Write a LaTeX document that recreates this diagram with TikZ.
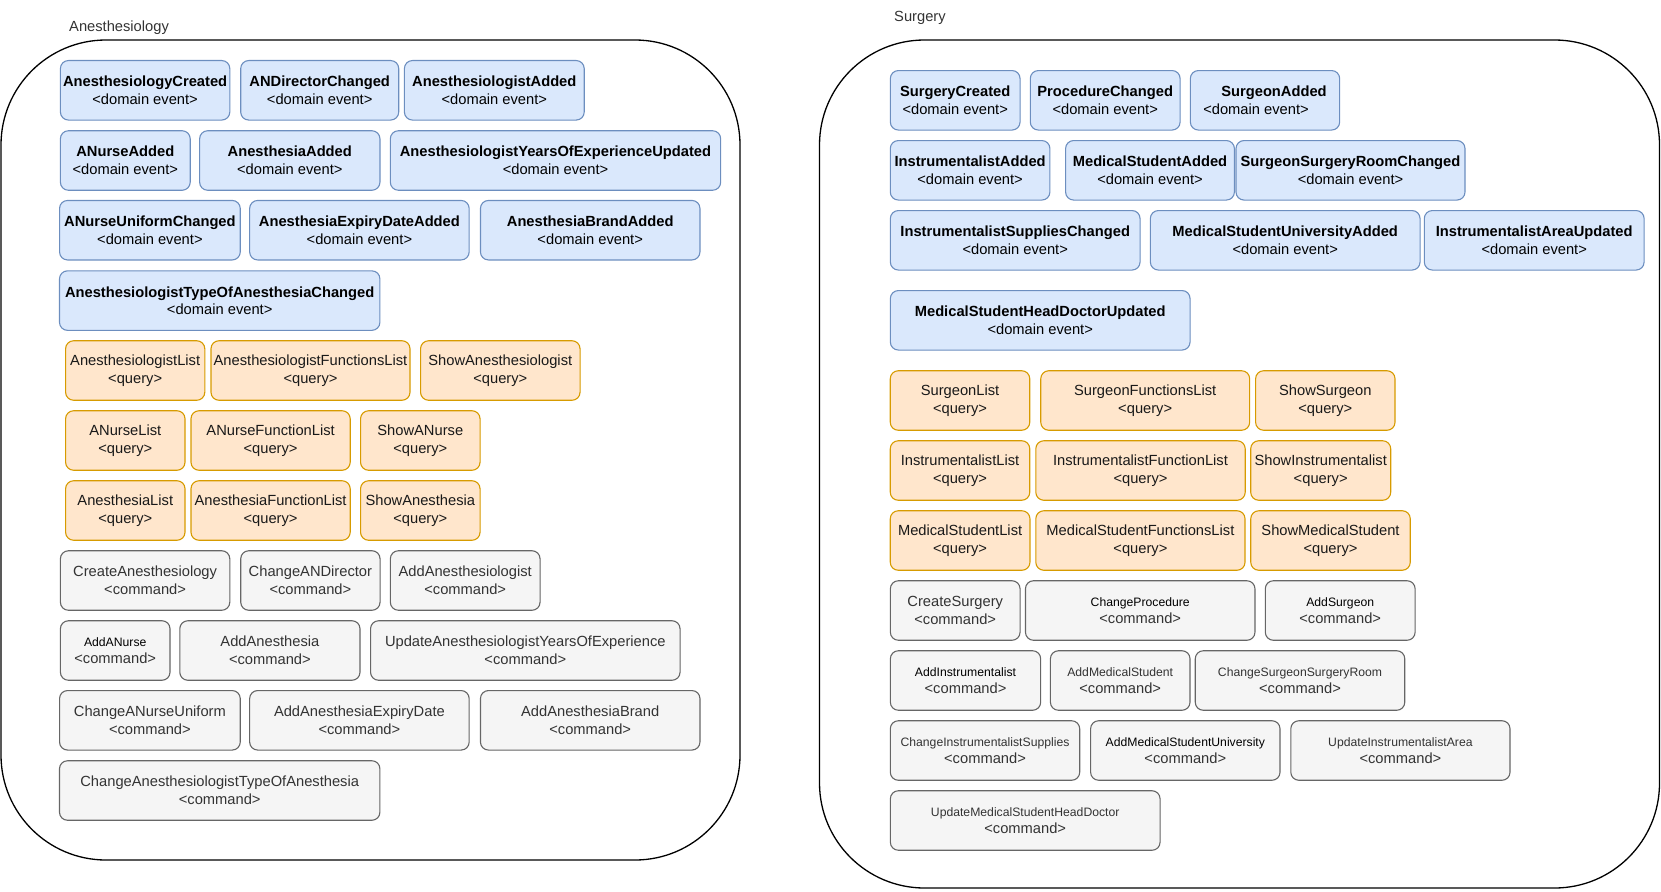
\documentclass[tikz,border=0pt]{standalone}
\usepackage{fontspec}
\setmainfont{Liberation Sans}
\definecolor{evfill}{HTML}{DAE8FC}
\definecolor{evdraw}{HTML}{6C8EBF}
\definecolor{qfill}{HTML}{FFE6CC}
\definecolor{qdraw}{HTML}{D79B00}
\definecolor{cmfill}{HTML}{F5F5F5}
\definecolor{cmdraw}{HTML}{666666}
\definecolor{cmtext}{HTML}{333333}
\newcommand{\smallname}[1]{{\fontsize{12.2}{14}\selectfont #1}}
\begin{document}
\begin{tikzpicture}[x=1pt,y=-1pt,
  box/.style={rectangle,rounded corners=8pt,line width=1.1pt,inner sep=0pt,
    minimum height=59.5pt,align=center,font=\fontsize{14.7}{17.7}\selectfont},
  evbox/.style={box,fill=evfill,draw=evdraw},
  qbox/.style={box,fill=qfill,draw=qdraw,text=black!90},
  cmdbox/.style={box,fill=cmfill,draw=cmdraw,text=cmtext},
  ctxbox/.style={rectangle,draw=black,line width=1.3pt,rounded corners=105pt,inner sep=0pt},
  ctxlabel/.style={anchor=west,inner sep=0pt,text=cmtext,font=\fontsize{14.7}{17.7}\selectfont}]
\useasboundingbox (0,0) rectangle (1661,891);

%%% Anesthesiology
\node[ctxbox,minimum width=739pt,minimum height=820pt] (anesthesiology) at (370.5,450) {};
\node[ctxlabel] (anTitle) at (69,28) {Anesthesiology};

% domain events
\node[evbox,minimum width=169.4pt] (anCreated) at (145.1,90.3) {\textbf{AnesthesiologyCreated}\\<domain event>};
\node[evbox,minimum width=158pt] (anDirChanged) at (319.7,90.3) {\textbf{ANDirectorChanged}\\<domain event>};
\node[evbox,minimum width=179.8pt] (anLogistAdded) at (494.3,90.3) {\textbf{AnesthesiologistAdded}\\<domain event>};
\node[evbox,minimum width=129.8pt] (anNurseAdded) at (125.3,160.5) {\textbf{ANurseAdded}\\<domain event>};
\node[evbox,minimum width=180.3pt] (anAnesAdded) at (289.8,160.5) {\textbf{AnesthesiaAdded}\\<domain event>};
\node[evbox,minimum width=330.3pt] (anYearsUpd) at (555.5,160.5) {\textbf{AnesthesiologistYearsOfExperienceUpdated}\\<domain event>};
\node[evbox,minimum width=180.7pt] (anUniformChg) at (149.9,230.2) {\textbf{ANurseUniformChanged}\\<domain event>};
\node[evbox,minimum width=219.5pt] (anExpiryAdded) at (359.4,230.2) {\textbf{AnesthesiaExpiryDateAdded}\\<domain event>};
\node[evbox,minimum width=219.5pt] (anBrandAdded) at (590.2,230.2) {\textbf{AnesthesiaBrandAdded}\\<domain event>};
\node[evbox,minimum width=320.4pt] (anTypeChg) at (219.7,300.6) {\textbf{AnesthesiologistTypeOfAnesthesiaChanged}\\<domain event>};

% queries
\node[qbox,minimum width=139.2pt] (anLogistList) at (135.2,370.5) {AnesthesiologistList\\<query>};
\node[qbox,minimum width=199pt] (anLogistFunc) at (310.5,370.5) {AnesthesiologistFunctionsList\\<query>};
\node[qbox,minimum width=159.5pt] (anLogistShow) at (500.3,370.5) {ShowAnesthesiologist\\<query>};
\node[qbox,minimum width=119.4pt] (anNurseList) at (125.3,440.5) {ANurseList\\<query>};
\node[qbox,minimum width=159.2pt] (anNurseFunc) at (270.6,440.5) {ANurseFunctionList\\<query>};
\node[qbox,minimum width=119.5pt] (anNurseShow) at (420.3,440.5) {ShowANurse\\<query>};
\node[qbox,minimum width=119.4pt] (anAnesList) at (125.3,510.5) {AnesthesiaList\\<query>};
\node[qbox,minimum width=159.2pt] (anAnesFunc) at (270.6,510.5) {AnesthesiaFunctionList\\<query>};
\node[qbox,minimum width=119.5pt] (anAnesShow) at (420.3,510.5) {ShowAnesthesia\\<query>};

% commands
\node[cmdbox,minimum width=169.4pt] (anCreate) at (145.1,580.5) {CreateAnesthesiology\\<command>};
\node[cmdbox,minimum width=139.3pt] (anDirChange) at (310.4,580.5) {ChangeANDirector\\<command>};
\node[cmdbox,minimum width=149.7pt] (anLogistAdd) at (465.2,580.5) {AddAnesthesiologist\\<command>};
\node[cmdbox,minimum width=109.6pt] (anNurseAdd) at (115.2,650.5) {\smallname{\color{black}AddANurse}\\<command>};
\node[cmdbox,minimum width=180.2pt] (anAnesAdd) at (269.9,650.5) {AddAnesthesia\\<command>};
\node[cmdbox,minimum width=309.5pt] (anYearsUpdate) at (525.3,650.5) {UpdateAnesthesiologistYearsOfExperience\\<command>};
\node[cmdbox,minimum width=180.7pt] (anUniformChange) at (149.9,720.3) {ChangeANurseUniform\\<command>};
\node[cmdbox,minimum width=219.5pt] (anExpiryAdd) at (359.4,720.3) {AddAnesthesiaExpiryDate\\<command>};
\node[cmdbox,minimum width=219.5pt] (anBrandAdd) at (590.2,720.3) {AddAnesthesiaBrand\\<command>};
\node[cmdbox,minimum width=320.4pt] (anTypeChange) at (219.7,790.5) {ChangeAnesthesiologistTypeOfAnesthesia\\<command>};

%%% Surgery
\node[ctxbox,minimum width=840pt,minimum height=848pt] (surgery) at (1239.5,464) {};
\node[ctxlabel] (suTitle) at (894,18) {Surgery};

% domain events
\node[evbox,minimum width=129.7pt] (suCreated) at (955.2,100.3) {\textbf{SurgeryCreated}\\<domain event>};
\node[evbox,minimum width=149.8pt] (suProcChanged) at (1105.2,100.3) {\textbf{ProcedureChanged}\\<domain event>};
\node[evbox,minimum width=149.3pt] (suSurgeonAdded) at (1265,100.3) {\hspace*{18pt}\textbf{SurgeonAdded}\\<domain event>\hspace*{18pt}};
\node[evbox,minimum width=159.6pt] (suInstrAdded) at (970.1,170.3) {\textbf{InstrumentalistAdded}\\<domain event>};
\node[evbox,minimum width=168.8pt] (suStudentAdded) at (1150,170.3) {\textbf{MedicalStudentAdded}\\<domain event>};
\node[evbox,minimum width=229pt] (suRoomChanged) at (1350.5,170.3) {\textbf{SurgeonSurgeryRoomChanged}\\<domain event>};
\node[evbox,minimum width=249.7pt] (suSuppliesChg) at (1015.2,240.3) {\textbf{InstrumentalistSuppliesChanged}\\<domain event>};
\node[evbox,minimum width=269.7pt] (suUnivAdded) at (1285.2,240.3) {\textbf{MedicalStudentUniversityAdded}\\<domain event>};
\node[evbox,minimum width=219.8pt] (suAreaUpd) at (1534.2,240.3) {\textbf{InstrumentalistAreaUpdated}\\<domain event>};
\node[evbox,minimum width=299.7pt] (suHeadDocUpd) at (1040.2,320.3) {\textbf{MedicalStudentHeadDoctorUpdated}\\<domain event>};

% queries
\node[qbox,minimum width=139.5pt] (suSurgeonList) at (960,400.5) {SurgeonList\\<query>};
\node[qbox,minimum width=208.9pt] (suSurgeonFunc) at (1145.2,400.5) {SurgeonFunctionsList\\<query>};
\node[qbox,minimum width=139.4pt] (suSurgeonShow) at (1325.3,400.5) {ShowSurgeon\\<query>};
\node[qbox,minimum width=139.5pt] (suInstrList) at (960,470.5) {InstrumentalistList\\<query>};
\node[qbox,minimum width=209.4pt] (suInstrFunc) at (1140.5,470.5) {InstrumentalistFunctionList\\<query>};
\node[qbox,minimum width=140pt] (suInstrShow) at (1320.7,470.5) {ShowInstrumentalist\\<query>};
\node[qbox,minimum width=139.7pt] (suStudentList) at (960.1,540.5) {MedicalStudentList\\<query>};
\node[qbox,minimum width=209.2pt] (suStudentFunc) at (1140.4,540.5) {MedicalStudentFunctionsList\\<query>};
\node[qbox,minimum width=159.5pt] (suStudentShow) at (1330.5,540.5) {ShowMedicalStudent\\<query>};

% commands
\node[cmdbox,minimum width=129.7pt] (suCreate) at (955.2,610.5) {CreateSurgery\\<command>};
\node[cmdbox,minimum width=229.5pt] (suProcChange) at (1140.2,610.5) {\smallname{\color{black}ChangeProcedure}\\<command>};
\node[cmdbox,minimum width=149.8pt] (suSurgeonAdd) at (1340.2,610.5) {\smallname{\color{black}AddSurgeon}\\<command>};
\node[cmdbox,minimum width=150.3pt] (suInstrAdd) at (965.5,680.5) {\smallname{\color{black}AddInstrumentalist}\\<command>};
\node[cmdbox,minimum width=139.6pt] (suStudentAdd) at (1120.2,680.5) {\smallname{AddMedicalStudent}\\<command>};
\node[cmdbox,minimum width=209.5pt] (suRoomChange) at (1300,680.5) {\smallname{ChangeSurgeonSurgeryRoom}\\<command>};
\node[cmdbox,minimum width=189.4pt] (suSuppliesChange) at (985,750.5) {\smallname{ChangeInstrumentalistSupplies}\\<command>};
\node[cmdbox,minimum width=189.4pt] (suUnivAdd) at (1185.3,750.5) {\smallname{\color{black}AddMedicalStudentUniversity}\\<command>};
\node[cmdbox,minimum width=219.2pt] (suAreaUpdate) at (1400.4,750.5) {\smallname{UpdateInstrumentalistArea}\\<command>};
\node[cmdbox,minimum width=269.7pt] (suHeadDocUpdate) at (1025.2,820.5) {\smallname{UpdateMedicalStudentHeadDoctor}\\<command>};
\end{tikzpicture}
\end{document}
